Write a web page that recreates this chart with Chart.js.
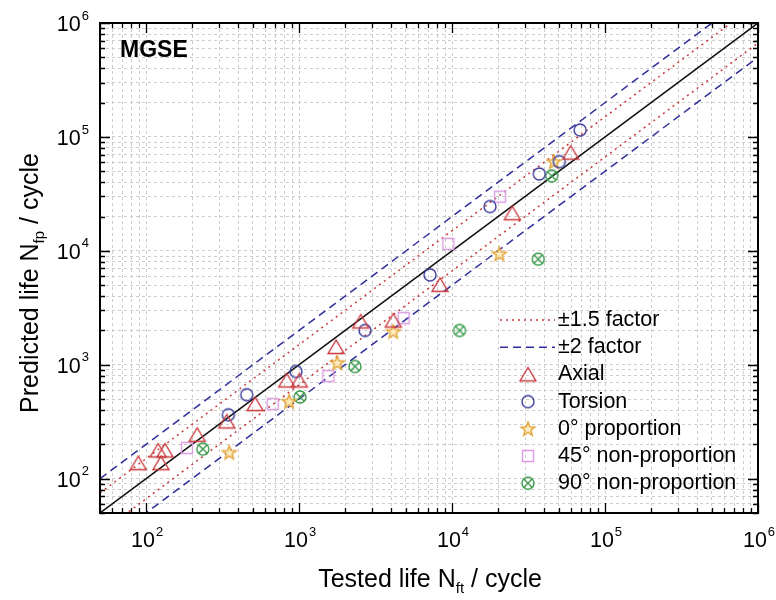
<!DOCTYPE html>
<html lang="en">
<head>
<meta charset="UTF-8">
<title>MGSE - Predicted vs tested life</title>
<script src="https://cdn.jsdelivr.net/npm/chart.js"></script>
<style>
    body {
        margin: 0;
        background: #ffffff;
    }
    .wrap {
        width: 776px;
        height: 600px;
    }
</style>
</head>
<body>
<div class="wrap"><canvas id="lifeChart" width="776" height="600"></canvas></div>
<script>
// Axis range and tick labels
const axisMin = 50;
const axisMax = 1e6;
const decadeTicks = [1e2, 1e3, 1e4, 1e5, 1e6];
const decadeExponents = ['2', '3', '4', '5', '6'];
const minorMultipliers = [1, 2, 3, 4, 5, 6, 7, 8, 9];

// Scatter data: tested life (x) and predicted life (y)
const axialTested = [89, 120, 133, 125, 216, 337, 516, 831, 1005, 1746, 2530, 4130, 8350, 24800, 59700];
const axialPredicted = [137, 177, 177, 137, 243, 318, 452, 728, 728, 1432, 2399, 2447, 5030, 21400, 72800];

const torsionTested = [345, 455, 955, 2700, 7180, 17700, 37200, 50300, 68700];
const torsionPredicted = [364, 546, 873, 2000, 6150, 24500, 47300, 60700, 115000];

const prop0Tested = [350, 861, 1778, 4130, 20400, 46400];
const prop0Predicted = [170, 477, 1042, 1959, 9410, 60700];

const nonProp45Tested = [185, 673, 1555, 4830, 9460, 20600];
const nonProp45Predicted = [186, 452, 796, 2570, 11500, 29900];

const nonProp90Tested = [235, 1015, 2320, 11200, 36600, 44800];
const nonProp90Predicted = [182, 522, 966, 2000, 8460, 45500];

// Scatter band factors
const dottedFactor = 1.5;
const dashedFactor = 2;

const FONT = '"Liberation Sans", Arial, sans-serif';
const RED = '#c9393d';
const BLUE = '#2f2f9c';

// Build marker images (used both in the chart and in the legend)
function makeMarker(kind) {
    const c = document.createElement('canvas');
    c.width = 22;
    c.height = 22;
    const g = c.getContext('2d');
    g.lineWidth = 1.4;
    const cx = 11, cy = 11;
    g.beginPath();
    if (kind === 'triangle') {
        g.strokeStyle = RED;
        g.moveTo(cx, cy - 7);
        g.lineTo(cx + 8, cy + 6.5);
        g.lineTo(cx - 8, cy + 6.5);
        g.closePath();
        g.stroke();
    } else if (kind === 'circle') {
        g.strokeStyle = '#3b3b9b';
        g.arc(cx, cy, 6, 0, Math.PI * 2);
        g.stroke();
    } else if (kind === 'star') {
        g.strokeStyle = '#e3a43a';
        g.fillStyle = '#fcecc0';
        for (let i = 0; i < 10; i++) {
            const r = i % 2 === 0 ? 7.2 : 3.1;
            const a = -Math.PI / 2 + i * Math.PI / 5;
            const px = cx + r * Math.cos(a), py = cy + 0.5 + r * Math.sin(a);
            if (i === 0) g.moveTo(px, py); else g.lineTo(px, py);
        }
        g.closePath();
        g.fill();
        g.stroke();
    } else if (kind === 'square') {
        g.strokeStyle = '#da9ce2';
        g.rect(cx - 5.5, cy - 5.5, 11, 11);
        g.stroke();
    } else if (kind === 'crossed') {
        g.strokeStyle = '#3a9a4a';
        g.arc(cx, cy, 6, 0, Math.PI * 2);
        const d = 6 * Math.SQRT1_2;
        g.moveTo(cx - d, cy - d); g.lineTo(cx + d, cy + d);
        g.moveTo(cx + d, cy - d); g.lineTo(cx - d, cy + d);
        g.stroke();
    }
    return c;
}

const markers = {
    triangle: makeMarker('triangle'),
    circle: makeMarker('circle'),
    star: makeMarker('star'),
    square: makeMarker('square'),
    crossed: makeMarker('crossed')
};

function toPoints(xs, ys) {
    return xs.map((x, i) => ({ x: x, y: ys[i] }));
}

function bandLine(k) {
    return [{ x: axisMin, y: axisMin * k }, { x: axisMax, y: axisMax * k }];
}

// Every grid / tick position (1..9 x 10^n inside the range)
const gridValues = [];
for (let e = 1; e <= 5; e++) {
    minorMultipliers.forEach(m => {
        const v = m * Math.pow(10, e);
        if (v >= axisMin && v <= axisMax) gridValues.push(v);
    });
}
gridValues.push(axisMax);

function scatterSet(label, xs, ys, marker) {
    return {
        label: label,
        data: toPoints(xs, ys),
        pointStyle: markers[marker],
        pointRadius: 6,
        order: 1
    };
}

function lineSet(label, data, color, dash, width) {
    return {
        label: label,
        data: data,
        showLine: true,
        pointRadius: 0,
        borderColor: color,
        borderWidth: width,
        borderDash: dash,
        fill: false,
        order: 10
    };
}

const legendRows = [
    { text: '\u00b11.5 factor', line: RED, dash: [2, 4] },
    { text: '\u00b12 factor', line: BLUE, dash: [8, 5] },
    { text: 'Axial', marker: 'triangle' },
    { text: 'Torsion', marker: 'circle' },
    { text: '0\u00b0 proportion', marker: 'star' },
    { text: '45\u00b0 non-proportion', marker: 'square' },
    { text: '90\u00b0 non-proportion', marker: 'crossed' }
];

const xTitle = [['Tested life N', false], ['ft', true], [' / cycle', false]];
const yTitle = [['Predicted life N', false], ['fp', true], [' / cycle', false]];

function drawRich(ctx, parts, cx, cy) {
    const big = '25px ' + FONT, small = '15px ' + FONT;
    let total = 0;
    parts.forEach(p => {
        ctx.font = p[1] ? small : big;
        total += ctx.measureText(p[0]).width;
    });
    let x = cx - total / 2;
    ctx.textAlign = 'left';
    ctx.textBaseline = 'middle';
    parts.forEach(p => {
        ctx.font = p[1] ? small : big;
        ctx.fillText(p[0], x, cy + (p[1] ? 9 : 0));
        x += ctx.measureText(p[0]).width;
    });
}

function drawPower(ctx, exp, x, y, align) {
    const big = '21.5px ' + FONT, small = '13px ' + FONT;
    ctx.font = big;
    const wBase = ctx.measureText('10').width;
    ctx.font = small;
    const wExp = ctx.measureText(exp).width;
    const total = wBase + 1 + wExp;
    const left = align === 'right' ? x - total : x - total / 2;
    ctx.textAlign = 'left';
    ctx.textBaseline = 'middle';
    ctx.font = big;
    ctx.fillText('10', left, y);
    ctx.font = small;
    ctx.fillText(exp, left + wBase + 1, y - 9);
}

// Frame, inward ticks, labels, titles and legend
const framePlugin = {
    id: 'frame',
    afterDraw(chart) {
        const ctx = chart.ctx;
        const a = chart.chartArea;
        const xs = chart.scales.x, ys = chart.scales.y;
        ctx.save();
        ctx.strokeStyle = '#000';
        ctx.fillStyle = '#000';

        // ticks on all four sides
        ctx.lineWidth = 1.3;
        ctx.beginPath();
        gridValues.forEach(v => {
            const major = decadeTicks.indexOf(v) >= 0;
            const len = major ? 10 : 5;
            const px = Math.round(xs.getPixelForValue(v)) + 0.5;
            ctx.moveTo(px, a.bottom); ctx.lineTo(px, a.bottom - len);
            ctx.moveTo(px, a.top); ctx.lineTo(px, a.top + len);
            const py = Math.round(ys.getPixelForValue(v)) + 0.5;
            ctx.moveTo(a.left, py); ctx.lineTo(a.left + len, py);
            ctx.moveTo(a.right, py); ctx.lineTo(a.right - len, py);
        });
        ctx.stroke();

        ctx.lineWidth = 2;
        ctx.strokeRect(a.left, a.top, a.right - a.left, a.bottom - a.top);

        // tick labels
        decadeTicks.forEach((v, i) => {
            drawPower(ctx, decadeExponents[i], xs.getPixelForValue(v) + 1, a.bottom + 28, 'center');
            drawPower(ctx, decadeExponents[i], a.left - 11, ys.getPixelForValue(v) + 2, 'right');
        });

        // axis titles
        drawRich(ctx, xTitle, (a.left + a.right) / 2 + 1, 580);
        ctx.save();
        ctx.translate(31, 283);
        ctx.rotate(-Math.PI / 2);
        drawRich(ctx, yTitle, 0, 0);
        ctx.restore();

        // panel label
        ctx.font = 'bold 23px ' + FONT;
        ctx.textAlign = 'left';
        ctx.textBaseline = 'alphabetic';
        ctx.fillText('MGSE', 120, 57);

        // legend
        ctx.font = '21.5px ' + FONT;
        ctx.textBaseline = 'middle';
        legendRows.forEach((row, i) => {
            const y = 320 + i * 27.2;
            if (row.line) {
                ctx.save();
                ctx.strokeStyle = row.line;
                ctx.lineWidth = 1.5;
                ctx.setLineDash(row.dash);
                ctx.beginPath();
                ctx.moveTo(500, y);
                ctx.lineTo(555, y);
                ctx.stroke();
                ctx.restore();
            } else {
                const img = markers[row.marker];
                ctx.drawImage(img, 528 - img.width / 2, y - img.height / 2);
            }
            ctx.fillStyle = '#000';
            ctx.fillText(row.text, 558, y);
        });
        ctx.restore();
    }
};

const axisOptions = (fitFn) => ({
    type: 'logarithmic',
    min: axisMin,
    max: axisMax,
    afterBuildTicks: s => { s.ticks = gridValues.map(v => ({ value: v })); },
    afterFit: fitFn,
    ticks: { display: false },
    grid: { color: '#cdcdcd', lineWidth: 1, drawTicks: false },
    border: { display: false, dash: [3, 3] }
});

new Chart(document.getElementById('lifeChart').getContext('2d'), {
    type: 'scatter',
    data: {
        datasets: [
            scatterSet('Axial', axialTested, axialPredicted, 'triangle'),
            scatterSet('Torsion', torsionTested, torsionPredicted, 'circle'),
            scatterSet('0\u00b0 proportion', prop0Tested, prop0Predicted, 'star'),
            scatterSet('45\u00b0 non-proportion', nonProp45Tested, nonProp45Predicted, 'square'),
            scatterSet('90\u00b0 non-proportion', nonProp90Tested, nonProp90Predicted, 'crossed'),
            lineSet('1:1', bandLine(1), '#111111', [], 1.5),
            lineSet('+1.5 factor', bandLine(dottedFactor), RED, [2, 4], 1.5),
            lineSet('-1.5 factor', bandLine(1 / dottedFactor), RED, [2, 4], 1.5),
            lineSet('+2 factor', bandLine(dashedFactor), BLUE, [8, 5], 1.5),
            lineSet('-2 factor', bandLine(1 / dashedFactor), BLUE, [8, 5], 1.5)
        ]
    },
    options: {
        responsive: false,
        animation: false,
        layout: { padding: { top: 23, right: 18, left: 0, bottom: 0 } },
        plugins: {
            legend: { display: false },
            tooltip: { enabled: false }
        },
        scales: {
            x: axisOptions(s => { s.height = 87; }),
            y: axisOptions(s => { s.width = 100; })
        }
    },
    plugins: [framePlugin]
});
</script>
</body>
</html>
